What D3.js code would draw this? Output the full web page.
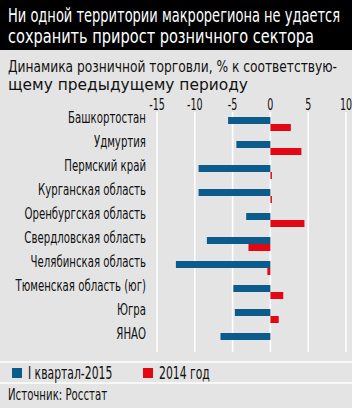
<!DOCTYPE html>
<html>
<head>
<meta charset="utf-8">
<script src="https://cdn.jsdelivr.net/npm/d3@7"></script>
<style>
  body { margin: 0; background: #fff; }
  svg text { font-family: "Liberation Sans Narrow", "DejaVu Sans Condensed", "Roboto", sans-serif; }
</style>
</head>
<body>
<svg id="chart" width="353" height="408"></svg>
<script>
// regions, top to bottom
const regions = ['Башкортостан', 'Удмуртия', 'Пермский край', 'Курганская область',
  'Оренбургская область', 'Свердловская область', 'Челябинская область',
  'Тюменская область (юг)', 'Югра', 'ЯНАО']
// I квартал-2015
const q1_2015 = [-5.6, -4.5, -9.5, -9.5, -3.2, -8.4, -12.5, -4.9, -4.7, -6.6]
// 2014 год
const y2014 = [2.7, 4.1, 0.2, 0.2, 4.5, -2.9, -0.4, 1.7, 1.1, 0]
const ticks = [-15, -10, -5, 0, 5, 10]

const titleLines = ['Ни одной территории макрорегиона не удается', 'сохранить прирост розничного сектора']
const subLines = ['Динамика розничной торговли, % к соответствую-', 'щему предыдущему периоду']

const blue = '#0b5b8d', red = '#e30613', grey = '#e4e4e4'

const svg = d3.select('#chart')

// the original uses a narrow font; find how much to squeeze ours
const probe = svg.append('text').style('font-size', '16px').text('Башкортостан')
const K = 78 / probe.node().getComputedTextLength()
probe.remove()

// places text at (x,y) squeezed horizontally by K
function narrow(sel, x, y) {
  sel.attr('transform', (d, i) => `translate(${x(d, i)},${y(d, i)}) scale(${K},1)`)
}

svg.append('rect').attr('width', 352).attr('height', 408).attr('fill', grey)
svg.append('rect').attr('width', 352).attr('height', 50).attr('fill', '#000')

// title + subtitle, fitted to the widths in the original
const titleWidths = [332, 306]
svg.selectAll('text.title')
  .data(titleLines)
  .enter()
  .append('text')
  .attr('class', 'title')
  .attr('x', 8)
  .attr('y', (d, i) => 22 + i * 21)
  .attr('fill', '#fff')
  .style('font-size', '20px')
  .attr('textLength', (d, i) => titleWidths[i])
  .attr('lengthAdjust', 'spacingAndGlyphs')
  .text((d) => d)

const subWidths = [329, 240]
svg.selectAll('text.sub')
  .data(subLines)
  .enter()
  .append('text')
  .attr('class', 'sub')
  .attr('x', 8)
  .attr('y', (d, i) => 72 + i * 18)
  .attr('fill', '#111')
  .style('font-size', '16px')
  .attr('textLength', (d, i) => subWidths[i])
  .attr('lengthAdjust', 'spacingAndGlyphs')
  .text((d) => d)

const x = d3.scaleLinear().domain([-15, 10]).range([157, 346])
const y = d3.scaleBand().domain(regions).range([112, 352])

// grid
svg.selectAll('line.grid')
  .data(ticks)
  .enter()
  .append('line')
  .attr('class', 'grid')
  .attr('x1', (d) => x(d)).attr('x2', (d) => x(d))
  .attr('y1', 112).attr('y2', 352)
  .attr('stroke', '#fff')
  .attr('stroke-width', 1.5)

svg.selectAll('text.tick')
  .data(ticks)
  .enter()
  .append('text')
  .attr('class', 'tick')
  .attr('text-anchor', 'middle')
  .attr('fill', '#111')
  .style('font-size', '15px')
  .text((d) => d < 0 ? '-' + Math.abs(d) : d)
  .call(narrow, (d) => x(d), () => 110)

const mid = (r) => y(r) + y.bandwidth() / 2
const barH = 7

svg.selectAll('rect.q1')
  .data(regions)
  .enter()
  .append('rect')
  .attr('class', 'q1')
  .attr('x', (r, i) => x(Math.min(0, q1_2015[i])))
  .attr('width', (r, i) => Math.abs(x(q1_2015[i]) - x(0)))
  .attr('y', (r) => mid(r) - barH)
  .attr('height', barH)
  .attr('fill', blue)

svg.selectAll('rect.y14')
  .data(regions)
  .enter()
  .append('rect')
  .attr('class', 'y14')
  .attr('x', (r, i) => x(Math.min(0, y2014[i])))
  .attr('width', (r, i) => Math.abs(x(y2014[i]) - x(0)))
  .attr('y', (r) => mid(r))
  .attr('height', barH)
  .attr('fill', red)

svg.selectAll('text.cat')
  .data(regions)
  .enter()
  .append('text')
  .attr('class', 'cat')
  .attr('text-anchor', 'end')
  .attr('fill', '#111')
  .style('font-size', '16px')
  .text((r) => r)
  .call(narrow, () => 146, (r) => mid(r) - 1)

// separators
svg.selectAll('line.sep')
  .data([362, 383])
  .enter()
  .append('line')
  .attr('class', 'sep')
  .attr('x1', 0).attr('x2', 352)
  .attr('y1', (d) => d).attr('y2', (d) => d)
  .attr('stroke', '#fff')
  .attr('stroke-width', 1.5)

// legend
const legend = [
  { label: 'I квартал-2015', color: blue, x: 12 },
  { label: '2014 год', color: red, x: 143 }
]
svg.selectAll('rect.legend')
  .data(legend)
  .enter()
  .append('rect')
  .attr('class', 'legend')
  .attr('x', (d) => d.x).attr('y', 368)
  .attr('width', 10).attr('height', 10)
  .attr('fill', (d) => d.color)
svg.selectAll('text.legend')
  .data(legend)
  .enter()
  .append('text')
  .attr('class', 'legend')
  .attr('fill', '#111')
  .style('font-size', '17px')
  .text((d) => d.label)
  .call(narrow, (d) => d.x + 16, () => 379)

svg.append('text')
  .datum('Источник: Росстат')
  .attr('fill', '#111')
  .style('font-size', '16px')
  .text((d) => d)
  .call(narrow, () => 8, () => 400)
</script>
</body>
</html>
